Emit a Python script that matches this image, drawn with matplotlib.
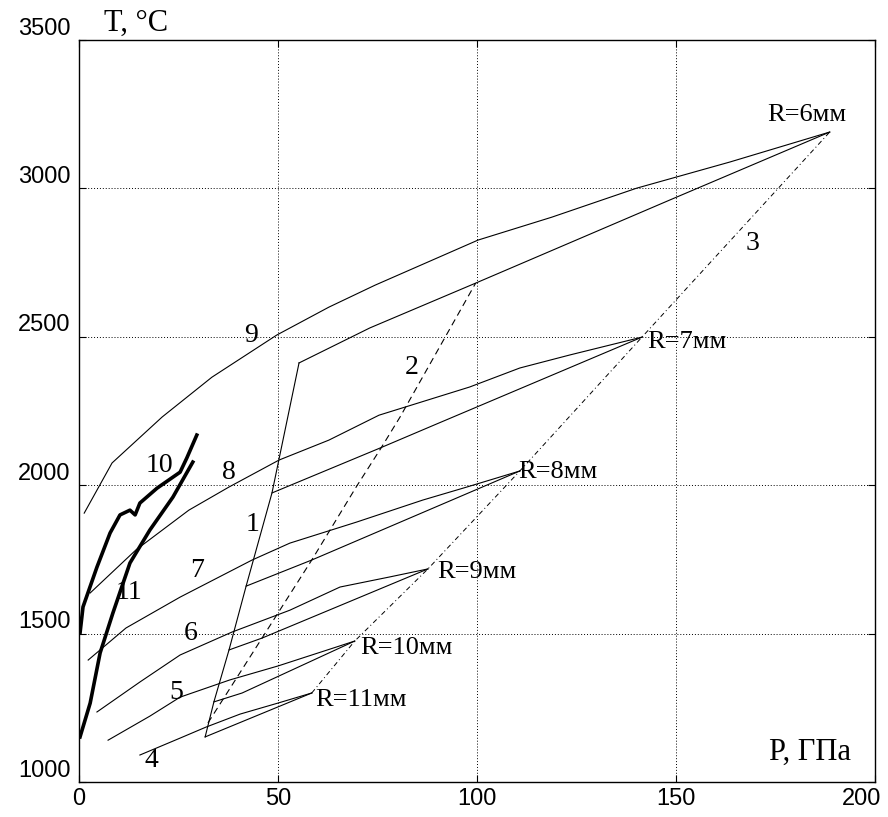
import matplotlib
matplotlib.use("Agg")
import matplotlib.pyplot as plt
import matplotlib.transforms as mtransforms

# upper curves (numbered 4..9), P [GPa], T [C]
c9_p = [1.3, 8.3, 20.9, 33.4, 49.7, 62.8, 74.4, 100.3, 118.8, 140.2, 163.6, 188.7]
c9_t = [1906, 2075, 2230, 2364, 2506, 2600, 2674, 2826, 2903, 3001, 3089, 3190]
c8_p = [2.8, 14.3, 27.6, 37.7, 50.3, 62.8, 75.4, 98.2, 110.8, 123.4, 141.5]
c8_t = [1637, 1782, 1916, 1994, 2085, 2152, 2236, 2331, 2395, 2439, 2499]
c7_p = [2.3, 11.8, 25.4, 43.5, 53.0, 69.8, 86.4, 97.5, 110.8]
c7_t = [1411, 1519, 1623, 1748, 1805, 1876, 1950, 1994, 2048]
c6_p = [4.5, 15.3, 25.4, 38.4, 53.0, 65.6, 78.1, 87.7]
c6_t = [1236, 1337, 1428, 1505, 1579, 1657, 1691, 1718]
c5_p = [7.3, 17.8, 25.4, 37.9, 50.0, 63.8, 69.3]
c5_t = [1141, 1222, 1286, 1344, 1391, 1451, 1475]
c4_p = [15.3, 25.4, 31.9, 40.5, 50.0, 58.5]
c4_t = [1091, 1148, 1185, 1229, 1266, 1300]

# lower curves, from line 1 to the R point
low6_p = [55.3, 73.1, 99.7, 148.5, 188.7]
low6_t = [2412, 2530, 2681, 2961, 3190]
low7_p = [48.5, 75.6, 90.0, 141.5]
low7_t = [1974, 2125, 2207, 2499]
low8_p = [42.0, 58.5, 110.8]
low8_t = [1660, 1748, 2048]
low9_p = [37.7, 46.0, 87.7]
low9_t = [1445, 1485, 1718]
low10_p = [33.9, 41.0, 69.3]
low10_t = [1270, 1300, 1475]
low11_p = [31.7, 58.5]
low11_t = [1152, 1300]

# line 1 (solid), line 2 (dashed), line 3 (dash-dot through R points)
l1_p = [31.7, 33.9, 37.7, 42.0, 48.5, 55.3]
l1_t = [1152, 1270, 1445, 1660, 1974, 2412]
l2_p = [32.4, 46.0, 58.5, 69.8, 75.9, 80.7, 99.7]
l2_t = [1199, 1485, 1748, 1997, 2125, 2230, 2681]
r_p = [58.5, 69.3, 87.7, 110.8, 141.5, 188.7]
r_t = [1300, 1475, 1718, 2048, 2499, 3190]
r_names = ["R=11мм", "R=10мм", "R=9мм", "R=8мм", "R=7мм", "R=6мм"]

# thick curves 10 and 11
c10_p = [0.25, 1.0, 4.5, 7.8, 10.3, 12.8, 14.1, 15.3, 19.6, 25.4, 27.1, 29.6]
c10_t = [1502, 1590, 1724, 1839, 1900, 1916, 1900, 1940, 1990, 2044, 2092, 2169]
c11_p = [0.25, 2.8, 5.3, 8.5, 12.8, 17.8, 23.6, 28.6]
c11_t = [1152, 1266, 1435, 1569, 1738, 1849, 1960, 2078]

fig = plt.figure(figsize=(8.88, 8.17), dpi=100)
ax = fig.add_axes([0.089, 0.0428, 0.896, 0.9082])

lw = 0.8
for p, t in [(c9_p, c9_t), (c8_p, c8_t), (c7_p, c7_t), (c6_p, c6_t), (c5_p, c5_t), (c4_p, c4_t),
             (low6_p, low6_t), (low7_p, low7_t), (low8_p, low8_t), (low9_p, low9_t),
             (low10_p, low10_t), (low11_p, low11_t), (l1_p, l1_t)]:
    ax.plot(p, t, color="black", lw=lw)
ax.plot(l2_p, l2_t, color="black", lw=lw, linestyle=(0, (6, 4)))
ax.plot(r_p, r_t, color="black", lw=0.7, linestyle=(0, (5, 3, 1, 3)))
ax.plot(c10_p, c10_t, color="black", lw=2.6)
ax.plot(c11_p, c11_t, color="black", lw=2.6)

serif = ["Liberation Serif", "DejaVu Serif"]
num_fs = 20
labels = [("9", 43.2, 2506), ("10", 20.1, 2068), ("8", 37.7, 2044), ("1", 43.5, 1869),
          ("7", 29.6, 1714), ("11", 12.6, 1637), ("6", 28.1, 1502), ("5", 24.4, 1303),
          ("4", 18.3, 1074), ("2", 83.7, 2398), ("3", 169.3, 2816)]
for s, x, y in labels:
    ax.text(x, y, s, family=serif, fontsize=num_fs, ha="center", va="center")

r_lab_x = [59.3, 70.6, 90.0, 110.3, 142.7, 173.1]
r_lab_y = [1276, 1451, 1707, 2044, 2482, 3247]
for s, x, y in zip(r_names, r_lab_x, r_lab_y):
    ax.text(x, y, s, family=serif, fontsize=19, ha="left", va="center")

ax.text(183.7, 1101, "P, ГПа", family=serif, fontsize=22, ha="center", va="center")
fig.text(0.153, 0.972, "T, °C", family=serif, fontsize=22, ha="center", va="center")

ax.set_xlim(0, 200)
ax.set_ylim(1000, 3500)
ax.set_xticks([0, 50, 100, 150, 200])
ax.set_yticks([1000, 1500, 2000, 2500, 3000, 3500])
ax.grid(True, color="black", lw=0.7, linestyle=(0, (1, 2)))
ax.tick_params(direction="in", length=5, width=0.8, top=True, right=True,
               labeltop=False, labelright=False, labelsize=17)
ax.tick_params(axis="x", pad=4)
ax.tick_params(axis="y", pad=6)
for lab in ax.get_xticklabels() + ax.get_yticklabels():
    lab.set_family(["Liberation Sans", "DejaVu Sans"])
off = mtransforms.ScaledTranslation(0, 0.14, fig.dpi_scale_trans)
for lab in ax.get_yticklabels():
    lab.set_transform(lab.get_transform() + off)
# last x label sits a bit inside, as in the scan
xl = ax.get_xticklabels()[-1]
xl.set_transform(xl.get_transform() + mtransforms.ScaledTranslation(-0.13, 0, fig.dpi_scale_trans))
for sp in ax.spines.values():
    sp.set_linewidth(1.0)

fig.savefig("out.png", dpi=100)
